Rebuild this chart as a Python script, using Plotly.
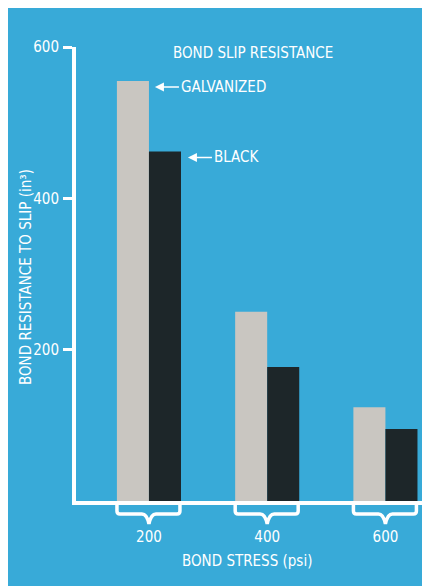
import plotly.graph_objects as go

# values
stress = ["200", "400", "600"]
galvanized = [555, 250, 124]
black = [462, 177, 95]

BLUE = "#38aad8"
FONT = "Liberation Sans Narrow, Arial Narrow, DejaVu Sans Condensed, sans-serif"

# the page puts the figure 8px in from the top-left corner
OFF = 8
W, H = 430 - OFF, 586 - OFF
L, R, T, B = 76 - OFF, 0, 47 - OFF, 85
pw, ph = W - L - R, H - T - B
x_range = [-0.617, 2.377]


def px(x):
    # page pixel -> paper
    return (x - OFF - L) / pw


def py(y):
    return (H - B - (y - OFF)) / ph


def cat_px(i):
    return OFF + L + (i - x_range[0]) / (x_range[1] - x_range[0]) * pw


fig = go.Figure()

fig.add_trace(go.Bar(x=stress, y=galvanized, name="Galvanized",
                     marker_color="#c9c6c1", marker_line_width=0))
fig.add_trace(go.Bar(x=stress, y=black, name="Black",
                     marker_color="#1d2629", marker_line_width=0))

# curly braces under each group
shapes = []
for i in range(len(stress)):
    c = cat_px(i)
    l, r = c - 32, c + 31
    top, bar, tip = 504, 514, 524
    path = (
        f"M {px(l)},{py(top)} L {px(l)},{py(bar - 3)} "
        f"Q {px(l)},{py(bar)} {px(l + 3)},{py(bar)} "
        f"L {px(c - 7)},{py(bar)} Q {px(c - 2)},{py(bar)} {px(c)},{py(tip)} "
        f"Q {px(c + 2)},{py(bar)} {px(c + 7)},{py(bar)} "
        f"L {px(r - 3)},{py(bar)} Q {px(r)},{py(bar)} {px(r)},{py(bar - 3)} "
        f"L {px(r)},{py(top)}"
    )
    shapes.append(dict(type="path", xref="paper", yref="paper", path=path,
                       line=dict(color="white", width=3.5)))

centred = dict(xref="paper", yref="paper", xanchor="center", yanchor="middle",
               showarrow=False, font=dict(size=15))
annotations = [
    dict(text="BOND SLIP RESISTANCE", x=px(253), y=py(53), **centred),
    dict(text="BOND RESISTANCE TO SLIP (in³)", x=px(26), y=py(277),
         textangle=-90, **centred),
    dict(text="BOND STRESS (psi)", x=px(247), y=py(561), **centred),
    dict(text="GALVANIZED", xref="x", yref="y", x=0, y=galvanized[0],
         xshift=6, yshift=-6, ax=24, ay=0, xanchor="left", showarrow=True,
         arrowhead=2, arrowsize=1.2, arrowwidth=1.5, arrowcolor="white",
         font=dict(size=15)),
    dict(text="BLACK", xref="x", yref="y", x=0, y=black[0],
         xshift=39, yshift=-6, ax=24, ay=0, xanchor="left", showarrow=True,
         arrowhead=2, arrowsize=1.2, arrowwidth=1.5, arrowcolor="white",
         font=dict(size=15)),
]

fig.update_layout(
    width=W, height=H,
    margin=dict(l=L, r=R, t=T, b=B),
    paper_bgcolor=BLUE, plot_bgcolor=BLUE,
    font=dict(family=FONT, color="white", size=15),
    barmode="group", bargap=0.458, bargroupgap=0,
    showlegend=False,
    shapes=shapes, annotations=annotations,
)

fig.update_xaxes(
    range=x_range, showline=True, linecolor="white", linewidth=4,
    ticks="", showgrid=False, zeroline=False, ticklabelstandoff=19,
    tickfont=dict(size=15),
)
fig.update_yaxes(
    range=[0, 600], tickvals=[200, 400, 600], showline=True,
    linecolor="white", linewidth=4, ticks="outside", ticklen=9, tickwidth=3,
    tickcolor="white", showgrid=False, zeroline=False, ticklabelstandoff=1,
    tickfont=dict(size=15),
)

fig.write_html("out.html")
